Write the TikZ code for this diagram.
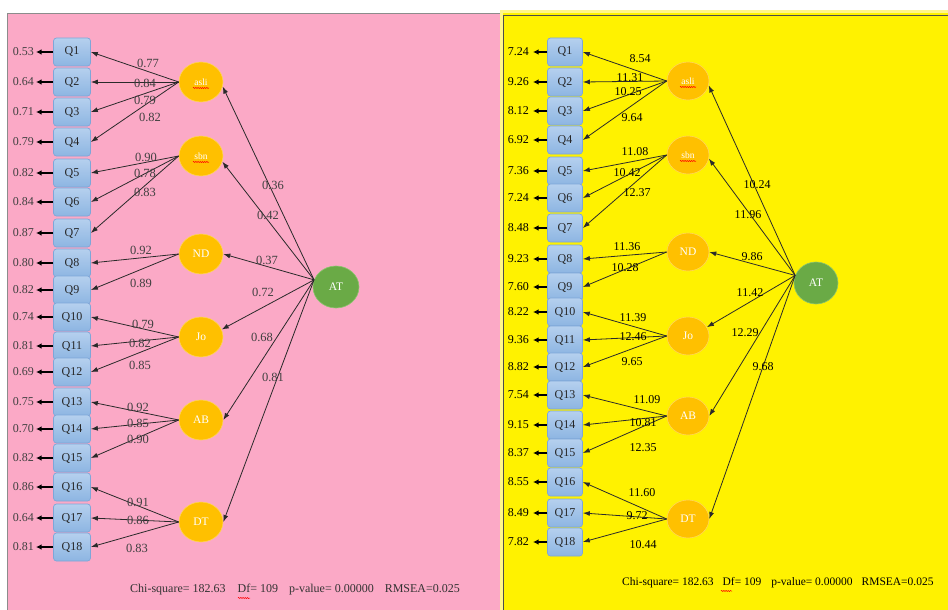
\documentclass[tikz,border=0pt]{standalone}
\usepackage{fontspec}
\setmainfont{Liberation Serif}
\usetikzlibrary{arrows.meta,decorations.pathmorphing,shapes.geometric}
\definecolor{pinkbg}{HTML}{FBA9C6}
\definecolor{yellowbg}{HTML}{FFF200}
\definecolor{paleyellow}{HTML}{FFF68A}
\definecolor{qtop}{HTML}{B5D0EE}
\definecolor{qbot}{HTML}{8DB5E2}
\definecolor{qdraw}{HTML}{7EA6D8}
\definecolor{facfill}{HTML}{FFC000}
\definecolor{facdraw}{HTML}{FFD45C}
\definecolor{atfill}{HTML}{6AAA46}
\definecolor{atdraw}{HTML}{8CC46E}
\definecolor{lncol}{HTML}{2A2A2A}
\tikzset{
  qbox/.style={draw=qdraw, line width=0.7pt, rounded corners=3pt, top color=qtop, bottom color=qbot,
    minimum height=28pt, inner sep=0pt, font=\fontsize{12}{12}\selectfont, text=black!85},
  qboxL/.style={qbox, minimum width=37pt},
  qboxR/.style={qbox, minimum width=35pt},
  facnode/.style={ellipse, fill=facfill, draw=facdraw, line width=0.6pt, inner sep=0pt,
    text=white, font=\fontsize{11.5}{11.5}\selectfont},
  facL/.style={facnode, minimum width=44pt, minimum height=40pt},
  facR/.style={facnode, minimum width=42pt, minimum height=38pt},
  atnode/.style={ellipse, fill=atfill, draw=atdraw, line width=0.6pt, inner sep=0pt,
    text=white, font=\fontsize{11.5}{11.5}\selectfont, minimum width=46pt, minimum height=42pt},
  loadL/.style={font=\fontsize{12.5}{12.5}\selectfont, inner sep=0pt, text=black!75},
  loadR/.style={font=\fontsize{12}{12}\selectfont, inner sep=0pt, text=black},
  errL/.style={font=\fontsize{12}{12}\selectfont, inner sep=0pt, inner xsep=2pt, anchor=east, text=black!75},
  errR/.style={font=\fontsize{12}{12}\selectfont, inner sep=0pt, inner xsep=4pt, anchor=east, text=black},
  ldarrow/.style={draw=lncol, line width=0.8pt, -{Latex[length=7pt,width=5pt]}},
  erarrow/.style={draw=black, line width=1.1pt, -{Latex[length=5.5pt,width=5.5pt]}},
  wavy/.style={draw=red, line width=0.5pt, decorate, decoration={snake, amplitude=0.6pt, segment length=2.2pt}},
  statsL/.style={font=\fontsize{12}{12}\selectfont, inner sep=0pt, anchor=west, text=black!80},
  statsR/.style={font=\fontsize{11.5}{11.5}\selectfont, inner sep=0pt, anchor=west, text=black}
}
\begin{document}
\begin{tikzpicture}[x=1pt,y=-1pt]
\useasboundingbox (0,0) rectangle (948,610);
\fill[white] (0,0) rectangle (948,610);
% panels
\fill[pinkbg] (7,14) rectangle (500,610);
\draw[black!45, line width=1pt] (7,610) -- (7,14) -- (500,14);
\fill[paleyellow] (500,10) rectangle (948,610);
\fill[yellowbg] (503,13) rectangle (948,610);
\draw[black!70, line width=0.8pt] (503,610) -- (503,15) -- (948,15);

% ================= LEFT PANEL =================
\foreach \i/\y/\e in {1/52/0.53,2/82/0.64,3/112/0.71,4/142/0.79,5/173/0.82,6/202/0.84,7/233/0.87,8/263/0.80,9/290/0.82,10/317/0.74,11/346/0.81,12/372/0.69,13/402/0.75,14/429/0.70,15/458/0.82,16/487/0.86,17/518/0.64,18/547/0.81}{
  \node[qboxL] (lq\i) at (72,\y) {Q\i};
  \node[errL] (le\i) at (36,\y) {\e};
  \draw[erarrow] (lq\i.west) -- (le\i.east);
}
\node[facL] (laali) at (201,82) {\fontsize{9.5}{9.5}\selectfont asli};
\node[facL] (lsbn) at (201,156) {\fontsize{9.5}{9.5}\selectfont sbn};
\node[facL] (lND) at (201,254) {ND};
\node[facL] (lJo) at (201,337) {Jo};
\node[facL] (lAB) at (201,420) {AB};
\node[facL] (lDT) at (201,522) {DT};
\node[atnode] (lAT) at (336,287) {AT};
\draw[wavy] ([xshift=-8pt,yshift=-6pt]laali.center) -- ++(16,0);
\draw[wavy] ([xshift=-8pt,yshift=-6pt]lsbn.center) -- ++(16,0);

\foreach \f/\q in {aali/1,aali/2,aali/3,aali/4,sbn/5,sbn/6,sbn/7,ND/8,ND/9,Jo/10,Jo/11,Jo/12,AB/13,AB/14,AB/15,DT/16,DT/17,DT/18}{
  \draw[ldarrow] (l\f.west) -- (lq\q.east);
}
\node[loadL] (ll1) at (148,63) {0.77};
\node[loadL] (ll2) at (145,83) {0.84};
\node[loadL] (ll3) at (145,100) {0.79};
\node[loadL] (ll4) at (150,117) {0.82};
\node[loadL] (ll5) at (146,157) {0.90};
\node[loadL] (ll6) at (145,173) {0.78};
\node[loadL] (ll7) at (145,192) {0.83};
\node[loadL] (ll8) at (141,250) {0.92};
\node[loadL] (ll9) at (141,283) {0.89};
\node[loadL] (ll10) at (143,324) {0.79};
\node[loadL] (ll11) at (140,343) {0.82};
\node[loadL] (ll12) at (140,365) {0.85};
\node[loadL] (ll13) at (138,407) {0.92};
\node[loadL] (ll14) at (138,423) {0.85};
\node[loadL] (ll15) at (138,439) {0.90};
\node[loadL] (ll16) at (138,502) {0.91};
\node[loadL] (ll17) at (138,520) {0.86};
\node[loadL] (ll18) at (137,548) {0.83};

\draw[ldarrow] (lAT.162) -- (laali.-12);
\draw[ldarrow] (lAT.162) -- (lsbn.-15);
\draw[ldarrow] (lAT.162) -- (lND.east);
\draw[ldarrow] (lAT.162) -- (lJo.20);
\draw[ldarrow] (lAT.162) -- (lAB.east);
\draw[ldarrow] (lAT.162) -- (lDT.east);
\node[loadL] (lg1) at (273,185) {0.36};
\node[loadL] (lg2) at (268,215) {0.42};
\node[loadL] (lg3) at (267,260) {0.37};
\node[loadL] (lg4) at (263,292) {0.72};
\node[loadL] (lg5) at (262,337) {0.68};
\node[loadL] (lg6) at (273,377) {0.81};

\node[statsL] (lstats) at (130,590) {Chi-square= 182.63\hspace{12pt}Df= 109\hspace{11pt}p-value= 0.00000\hspace{11pt}RMSEA=0.025};
\draw[wavy] (238,598) -- (250,598);

% ================= RIGHT PANEL =================
\foreach \i/\y/\e in {1/52/7.24,2/82/9.26,3/111/8.12,4/140/6.92,5/171/7.36,6/198/7.24,7/228/8.48,8/259/9.23,9/287/7.60,10/312/8.22,11/340/9.36,12/367/8.82,13/395/7.54,14/425/9.15,15/453/8.37,16/482/8.55,17/513/8.49,18/542/7.82}{
  \node[qboxR] (rq\i) at (565,\y) {Q\i};
  \node[errR] (re\i) at (533,\y) {\e};
  \draw[erarrow] (rq\i.west) -- (re\i.east);
}
\node[facR] (raali) at (688,81) {\fontsize{9.5}{9.5}\selectfont asli};
\node[facR] (rsbn) at (688,155) {\fontsize{9.5}{9.5}\selectfont sbn};
\node[facR] (rND) at (688,252) {ND};
\node[facR] (rJo) at (688,336) {Jo};
\node[facR] (rAB) at (688,416) {AB};
\node[facR] (rDT) at (688,519) {DT};
\node[atnode, minimum width=44pt] (rAT) at (816,283) {AT};
\draw[wavy] ([xshift=-8pt,yshift=-6pt]raali.center) -- ++(16,0);
\draw[wavy] ([xshift=-8pt,yshift=-6pt]rsbn.center) -- ++(16,0);

\foreach \f/\q in {aali/1,aali/2,aali/3,aali/4,sbn/5,sbn/6,sbn/7,ND/8,ND/9,Jo/10,Jo/11,Jo/12,AB/13,AB/14,AB/15,DT/16,DT/17,DT/18}{
  \draw[ldarrow] (r\f.west) -- (rq\q.east);
}
\node[loadR] (rl1) at (640,59) {8.54};
\node[loadR] (rl2) at (630,78) {11.31};
\node[loadR] (rl3) at (628,92) {10.25};
\node[loadR] (rl4) at (632,118) {9.64};
\node[loadR] (rl5) at (635,152) {11.08};
\node[loadR] (rl6) at (627,173) {10.42};
\node[loadR] (rl7) at (637,193) {12.37};
\node[loadR] (rl8) at (627,247) {11.36};
\node[loadR] (rl9) at (625,268) {10.28};
\node[loadR] (rl10) at (633,318) {11.39};
\node[loadR] (rl11) at (633,337) {12.46};
\node[loadR] (rl12) at (632,362) {9.65};
\node[loadR] (rl13) at (647,400) {11.09};
\node[loadR] (rl14) at (643,423) {10.81};
\node[loadR] (rl15) at (643,448) {12.35};
\node[loadR] (rl16) at (642,493) {11.60};
\node[loadR] (rl17) at (637,516) {9.72};
\node[loadR] (rl18) at (643,545) {10.44};

\draw[ldarrow] (rAT.160) -- (raali.-12);
\draw[ldarrow] (rAT.160) -- (rsbn.-10);
\draw[ldarrow] (rAT.160) -- (rND.east);
\draw[ldarrow] (rAT.160) -- (rJo.25);
\draw[ldarrow] (rAT.160) -- (rAB.east);
\draw[ldarrow] (rAT.160) -- (rDT.east);
\node[loadR] (rg1) at (757,185) {10.24};
\node[loadR] (rg2) at (748,215) {11.96};
\node[loadR] (rg3) at (752,257) {9.86};
\node[loadR] (rg4) at (750,293) {11.42};
\node[loadR] (rg5) at (745,333) {12.29};
\node[loadR] (rg6) at (763,367) {9.68};

\node[statsR] (rstats) at (622,583) {Chi-square= 182.63\hspace{9pt}Df= 109\hspace{10pt}p-value= 0.00000\hspace{9pt}RMSEA=0.025};
\draw[wavy] (721,591) -- (732,591);
\end{tikzpicture}
\end{document}
